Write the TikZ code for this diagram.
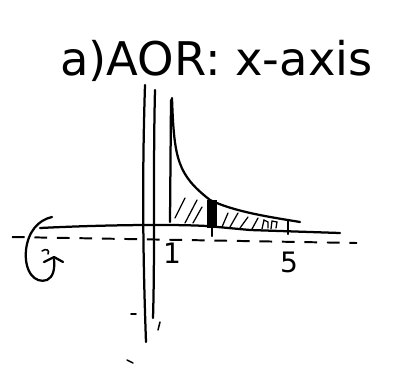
\documentclass[tikz,border=0pt]{standalone}
\usepackage{fontspec}
\setmainfont{DejaVu Sans}
\usetikzlibrary{arrows.meta,positioning}

\begin{document}
\begin{tikzpicture}[
  x=0.025cm, y=-0.025cm,
  pen/.style={line width=1.6pt, line cap=round, line join=round},
  thinpen/.style={line width=1.1pt, line cap=round},
  axisdash/.style={line width=1.4pt, dash pattern=on 9pt off 7pt},
  hatch/.style={line width=0.9pt, line cap=round},
  mark_label/.style={font=\fontsize{20}{22}\selectfont, inner sep=0pt}
]
\useasboundingbox (0,0) rectangle (400,370);

% Title
\node[font=\fontsize{33}{38}\selectfont, anchor=base west, inner sep=0pt] (title) at (60,75) {a)AOR: x-axis};

% Vertical axis (drawn twice)
\draw[pen] (145,85) .. controls (142,180) and (143,260) .. (146,342);
\draw[pen] (155,90) .. controls (153,170) and (155,250) .. (153,318);
\draw[thinpen] (131,314) -- (136,314);
\draw[thinpen] (160,322) -- (158,330);
\draw[thinpen] (127,360) -- (133,363);

% Horizontal axis and rotation axis
\draw[pen] (40,228) .. controls (100,225) and (170,224) .. (207,226)
  -- (250,230) -- (340,233);
\draw[axisdash] (12,237) -- (357,243);

% Curve y = 1/x and the line x = 1
\draw[pen] (172,98) .. controls (174,160) and (178,175) .. (210,200)
  .. controls (235,212) and (270,217) .. (300,222);
\draw[pen] (171,100) -- (170,222);
\draw[pen] (288,221) -- (288,234);

% Hatching of the region
\foreach \xa/\ya/\xb/\yb in {175/218/185/198, 185/223/197/200, 193/223/202/207,
  222/227/228/213, 230/227/238/213, 240/228/248/217, 252/229/258/218}
  \draw[hatch] (\xa,\ya) -- (\xb,\yb);
\draw[hatch] (262,229) -- (264,220) -- (268,222) -- (268,228)
  (271,229) -- (272,221) -- (277,222) -- (276,228);

% Thin slice
\fill (207,200) rectangle (217,228);
\draw[pen] (212,228) -- (212,236);

% Tick labels
\node[mark_label] (one) at (172,253) {1};
\node[mark_label] (five) at (289,262) {5};

% Rotation arrow
\draw[pen] (52,217) .. controls (38,220) and (28,232) .. (26,250)
  .. controls (24,272) and (35,284) .. (47,280)
  .. controls (53,277) and (55,270) .. (54,259);
\draw[pen] (44,262) -- (54,257) -- (63,262);
\draw[thinpen] (42,251) .. controls (46,248) and (50,250) .. (48,254);
\end{tikzpicture}
\end{document}
